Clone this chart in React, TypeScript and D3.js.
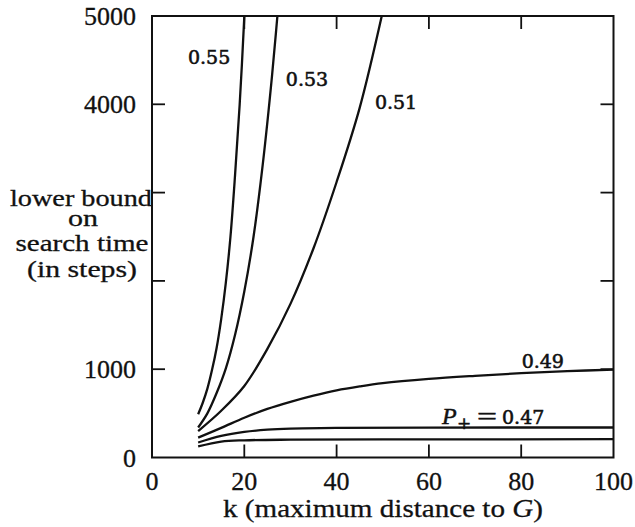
import React from 'react';
import * as d3 from 'd3';

// k (maximum distance to G) and lower bound on search time
const kP55 = [10, 11, 12, 13, 14, 15, 16, 17, 18, 19, 20, 20.5];
const tP55 = [490, 620, 780, 990, 1240, 1570, 1980, 2500, 3200, 4000, 4990, 5600];

const kP53 = [10, 12, 14, 16, 18, 20, 22, 24, 26, 28];
const tP53 = [340, 500, 730, 1010, 1390, 1880, 2500, 3320, 4320, 5500];

const kP51 = [10, 15, 20, 25, 30, 35, 40, 45, 50];
const tP51 = [300, 530, 810, 1230, 1740, 2370, 3120, 3960, 5050];

const kP49 = [10, 15, 20, 25, 30, 35, 40, 45, 50, 60, 70, 80, 90, 100];
const tP49 = [225, 335, 450, 550, 630, 700, 760, 805, 842, 890, 925, 955, 978, 995];

const kP47 = [10, 15, 20, 25, 30, 40, 60, 100];
const tP47 = [170, 245, 290, 315, 327, 335, 339, 340];

const kP45 = [10, 15, 20, 30, 50, 100];
const tP45 = [125, 180, 195, 202, 205, 207];

const xTickMarks = [20, 40, 60, 80];
const xTickLabels = [0, 20, 40, 60, 80, 100];
const yTickMarks = [1000, 2000, 3000, 4000];
const yTickLabels = [0, 1000, 4000, 5000];

const curveLabels = [
  { text: '0.55', k: 7.8, t: 4460 },
  { text: '0.53', k: 29.0, t: 4210 },
  { text: '0.51', k: 48.3, t: 3950 },
  { text: '0.49', k: 80.1, t: 1010 },
];

const series = [
  { k: kP55, t: tP55 },
  { k: kP53, t: tP53 },
  { k: kP51, t: tP51 },
  { k: kP49, t: tP49 },
  { k: kP47, t: tP47 },
  { k: kP45, t: tP45 },
];

const W = 635;
const H = 527;
const x = d3.scaleLinear().domain([0, 100]).range([152, 613.5]);
const y = d3.scaleLinear().domain([0, 5000]).range([457.5, 16]);

const SERIF = '"Liberation Serif", "Times New Roman", serif';
const LABEL = '"DejaVu Serif", serif';

export default function App() {
  const line = d3
    .line<[number, number]>()
    .x((d) => x(d[0]))
    .y((d) => y(d[1]))
    .curve(d3.curveCatmullRom.alpha(0.5));
  const x0 = x(0), x1 = x(100), y0 = y(0), y1 = y(5000);
  const tl = 13;
  return (
    <svg width={W} height={H} style={{ position: 'absolute', left: 0, top: 0 }}>
      <rect width={W} height={H} fill="#fff" />
      <defs>
        <clipPath id="plotClip">
          <rect x={x0} y={y1} width={x1 - x0} height={y0 - y1} />
        </clipPath>
      </defs>
      <g clipPath="url(#plotClip)">
        {series.map((s, i) => (
          <path
            key={i}
            d={line(s.k.map((k, j) => [k, s.t[j]] as [number, number])) || ''}
            fill="none"
            stroke="#111"
            strokeWidth={2.3}
          />
        ))}
      </g>
      {/* frame */}
      <rect x={x0} y={y1} width={x1 - x0} height={y0 - y1} fill="none" stroke="#111" strokeWidth={2} />
      {/* ticks */}
      {xTickMarks.map((v) => (
        <g key={'xt' + v} stroke="#111" strokeWidth={1.8}>
          <line x1={x(v)} x2={x(v)} y1={y0} y2={y0 - tl} />
          <line x1={x(v)} x2={x(v)} y1={y1} y2={y1 + tl} />
        </g>
      ))}
      {yTickMarks.map((v) => (
        <g key={'yt' + v} stroke="#111" strokeWidth={1.8}>
          <line x1={x0} x2={x0 + tl} y1={y(v)} y2={y(v)} />
          <line x1={x1} x2={x1 - tl} y1={y(v)} y2={y(v)} />
        </g>
      ))}
      {/* tick labels */}
      {xTickLabels.map((v) => (
        <text key={'xl' + v} x={x(v)} y={490} textAnchor="middle" fontFamily={SERIF} fontSize={26} fill="#111" stroke="#111" strokeWidth={0.3}>
          {v}
        </text>
      ))}
      {yTickLabels.map((v) => (
        <text key={'yl' + v} x={136} y={y(v) + 9} textAnchor="end" fontFamily={SERIF} fontSize={26} fill="#111" stroke="#111" strokeWidth={0.3}>
          {v}
        </text>
      ))}
      {/* y title */}
      <g fontFamily={SERIF} fontSize={24} fill="#111" textAnchor="middle" stroke="#111" strokeWidth={0.3}>
        <text x={81} y={206} textLength={142} lengthAdjust="spacingAndGlyphs">lower bound</text>
        <text x={83} y={226} textLength={30} lengthAdjust="spacingAndGlyphs">on</text>
        <text x={82} y={251} textLength={133} lengthAdjust="spacingAndGlyphs">search time</text>
        <text x={82} y={277} textLength={110} lengthAdjust="spacingAndGlyphs">(in steps)</text>
      </g>
      {/* x title */}
      <text x={223} y={517} fontFamily={SERIF} fontSize={26} fill="#111" stroke="#111" strokeWidth={0.3} textLength={320} lengthAdjust="spacingAndGlyphs">
        k (maximum distance to <tspan fontStyle="italic">G</tspan>)
      </text>
      {/* curve labels */}
      {curveLabels.map((c) => (
        <text key={c.text} x={x(c.k)} y={y(c.t)} fontFamily={LABEL} fontSize={19} fill="#111" stroke="#111" strokeWidth={0.6}>
          {c.text}
        </text>
      ))}
      <g fill="#111" stroke="#111" strokeWidth={0.5}>
        <text x={442} y={424} fontSize={24} fontStyle="italic" fontFamily={SERIF}>P</text>
        <text x={457} y={429} fontSize={17} fontFamily={LABEL}>+</text>
        <text x={477} y={424} fontSize={24} fontFamily={SERIF} textLength={20} lengthAdjust="spacingAndGlyphs">=</text>
        <text x={502} y={424} fontSize={19} fontFamily={LABEL} strokeWidth={0.6}>0.47</text>
      </g>
    </svg>
  );
}
